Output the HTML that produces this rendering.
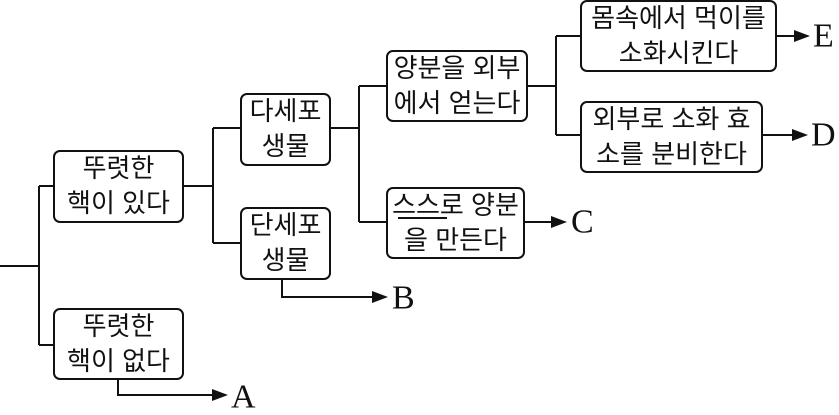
<!DOCTYPE html>
<html><head><meta charset="utf-8"><style>
html,body{margin:0;padding:0;background:#fff}
svg{display:block}
.t{font-family:"Liberation Sans","Noto Sans CJK KR",sans-serif;font-size:26px;fill:#111;text-anchor:middle;dominant-baseline:central}
.l{font-family:"Liberation Serif",serif;font-size:34px;fill:#111;dominant-baseline:central}
rect{fill:#fff;stroke:#111;stroke-width:2}
path{fill:none;stroke:#111;stroke-width:2}
.a{fill:#111;stroke:none}
</style></head><body>
<svg width="839" height="415" viewBox="0 0 839 415">
<path d="M0 266H39M39 186V345M39 186H54M39 345H54"/>
<path d="M183 186H213M213 128V243M213 128H241M213 243H241"/>
<path d="M118 379V395H218"/><polygon class="a" points="228,395 212,389 212,401"/>
<path d="M282 279V297H378"/><polygon class="a" points="388,297 372,291 372,303"/>
<path d="M330 128H359M359 86V222M359 86H387M359 222H387"/>
<path d="M524 222H557"/><polygon class="a" points="567,222 551,216 551,228"/>
<path d="M527 86H556M556 36V135M556 36H581M556 135H581"/>
<path d="M776 36H800"/><polygon class="a" points="810,36 794,30 794,42"/>
<path d="M762 135H798"/><polygon class="a" points="808,135 792,129 792,141"/>
<rect x="54" y="151" width="129" height="71" rx="6"/>
<text class="t" x="118.5" y="168">뚜렷한</text><text class="t" x="118.5" y="203">핵이 있다</text>
<rect x="54" y="309" width="129" height="70" rx="6"/>
<text class="t" x="118.5" y="326">뚜렷한</text><text class="t" x="118.5" y="361">핵이 없다</text>
<rect x="241" y="94" width="89" height="71" rx="6"/>
<text class="t" x="285.5" y="111">다세포</text><text class="t" x="285.5" y="146">생물</text>
<rect x="241" y="208" width="89" height="71" rx="6"/>
<text class="t" x="285.5" y="225">단세포</text><text class="t" x="285.5" y="260">생물</text>
<rect x="387" y="51" width="140" height="70" rx="6"/>
<text class="t" x="457" y="68">양분을 외부</text><text class="t" x="457" y="103">에서 얻는다</text>
<rect x="387" y="188" width="137" height="70" rx="6"/>
<text class="t" x="455.5" y="205">스스로 양분</text><text class="t" x="455.5" y="240">을 만든다</text>
<path d="M398 218H447"/>
<rect x="581" y="1" width="195" height="70" rx="6"/>
<text class="t" x="678.5" y="18">몸속에서 먹이를</text><text class="t" x="678.5" y="53">소화시킨다</text>
<rect x="581" y="102" width="181" height="70" rx="6"/>
<text class="t" x="671.5" y="119">외부로 소화 효</text><text class="t" x="671.5" y="154">소를 분비한다</text>
<text class="l" x="231" y="397">A</text>
<text class="l" x="392" y="298">B</text>
<text class="l" x="571" y="222">C</text>
<text class="l" x="811" y="135">D</text>
<text class="l" x="813" y="36">E</text>
</svg>
</body></html>
